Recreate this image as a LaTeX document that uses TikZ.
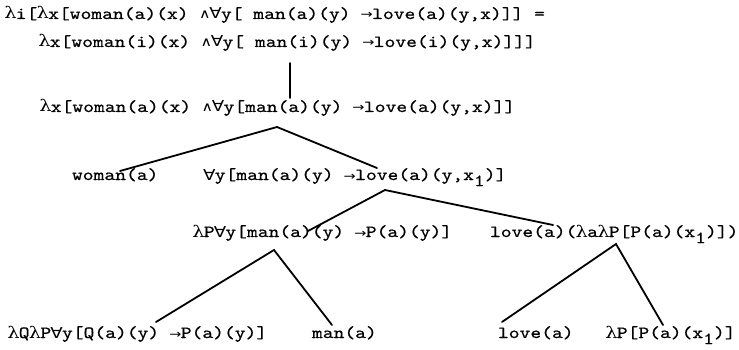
\documentclass[tikz,border=0pt]{standalone}
\usepackage{fontspec}
\usepackage{graphicx}
\newfontfamily\dvs{DejaVu Sans}
\newfontfamily\dvser{DejaVu Serif}
\newfontfamily\twf{lmmono10-regular.otf}[FakeBold=0.6]
\newcommand\cb[1]{\makebox[0.525em][c]{#1}}
\newcommand\LAM{\cb{\dvser\fontsize{16}{16}\selectfont λ}}
\newcommand\ALL{\cb{\dvs\fontsize{15}{15}\selectfont ∀}}
\newcommand\AND{\cb{\dvs\fontsize{13}{13}\selectfont ∧}}
\newcommand\TO{\cb{\dvs\fontsize{12}{12}\selectfont →}}
\newcommand\one{\raisebox{-0.36em}{1}}
\newcommand\tw[1]{\scalebox{1.21}[1]{\fontsize{17}{20}\selectfont\twf #1}}
\begin{document}
\begin{tikzpicture}[x=1pt,y=-1pt,
  tx/.style={anchor=base west,inner sep=0pt,outer sep=0pt},
  ln/.style={line width=1.8pt,line cap=round}]
\useasboundingbox[fill=white] (0,0) rectangle (739,350);
% rows of text
\node[tx] (r1) at (5,19) {\tw{\LAM i[\LAM x[woman(a)(x) \AND\ALL y[ man(a)(y) \TO love(a)(y,x)]] =}};
\node[tx] (r2) at (39,47) {\tw{\LAM x[woman(i)(x) \AND\ALL y[ man(i)(y) \TO love(i)(y,x)]]]}};
\node[tx] (r3) at (40,112) {\tw{\LAM x[woman(a)(x) \AND\ALL y[man(a)(y) \TO love(a)(y,x)]]}};
\node[tx] (r4a) at (72,180) {\tw{woman(a)}};
\node[tx] (r4b) at (204,180) {\tw{\ALL y[man(a)(y) \TO love(a)(y,x\one)]}};
\node[tx] (r5a) at (193,237) {\tw{\LAM P\ALL y[man(a)(y) \TO P(a)(y)]}};
\node[tx] (r5b) at (490,237) {\tw{love(a)(\LAM a\LAM P[P(a)(x\one)])}};
\node[tx] (r6a) at (8,338) {\tw{\LAM Q\LAM P\ALL y[Q(a)(y) \TO P(a)(y)]}};
\node[tx] (r6b) at (312,338) {\tw{man(a)}};
\node[tx] (r6c) at (498,338) {\tw{love(a)}};
\node[tx] (r6d) at (606,338) {\tw{\LAM P[P(a)(x\one)]}};
% connector end points
\coordinate (v1) at (290,63);
\coordinate (v2) at (290,98);
\coordinate (t1) at (277,127);
\coordinate (t1l) at (120,171);
\coordinate (t1r) at (377,168);
\coordinate (t2) at (385,190);
\coordinate (t2l) at (308,231);
\coordinate (t2r) at (553,225);
\coordinate (t3) at (274,250);
\coordinate (t3l) at (156,322);
\coordinate (t3r) at (332,325);
\coordinate (t4) at (616,244);
\coordinate (t4l) at (502,322);
\coordinate (t4r) at (663,325);
% connectors
\draw[ln] (v1) -- (v2);
\draw[ln] (t1l) -- (t1) -- (t1r);
\draw[ln] (t2l) -- (t2) -- (t2r);
\draw[ln] (t3l) -- (t3) -- (t3r);
\draw[ln] (t4l) -- (t4) -- (t4r);
\end{tikzpicture}
\end{document}
